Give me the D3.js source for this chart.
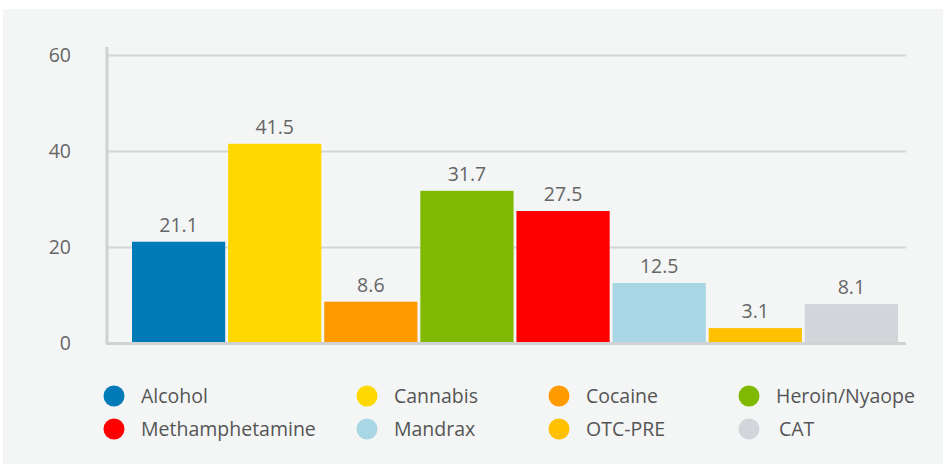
<!DOCTYPE html>
<meta charset="utf-8">
<style>
body { margin: 0; background: #fff; }
text { font-family: "Open Sans", sans-serif; }
.grid line { stroke: #d3d5d6; stroke-width: 2px; }
.grid path { stroke-width: 0; }
.value { fill: #666; font-size: 19.5px; }
.legend text { fill: #555; font-size: 19.5px; }
</style>
<body>
<script src="https://d3js.org/d3.v7.min.js"></script>
<script>

// data
var categories = ["Alcohol", "Cannabis", "Cocaine", "Heroin/Nyaope", "Methamphetamine", "Mandrax", "OTC-PRE", "CAT"];
var values = [21.1, 41.5, 8.6, 31.7, 27.5, 12.5, 3.1, 8.1];
var colors = ["#007bb8", "#fed800", "#ff9a00", "#7fba00", "#ff0000", "#a8d6e4", "#ffc000", "#d2d5d9"];
var yTicks = [0, 20, 40, 60];

// legend order as in the picture (2 rows x 4 columns)
var legendOrder = ["Alcohol", "Cannabis", "Cocaine", "Heroin/Nyaope", "Methamphetamine", "Mandrax", "OTC-PRE", "CAT"];

var W = 943, H = 464;

var svg = d3.select("body").append("svg")
    .attr("width", W)
    .attr("height", H);

// panel background
svg.append("rect")
    .attr("x", 3).attr("y", 9)
    .attr("width", W - 3).attr("height", H - 9)
    .attr("fill", "#f4f5f5");

// scales
var y = d3.scaleLinear().domain([0, 60]).range([343, 55]);
var x = d3.scaleBand().domain(categories).range([132, 898]).paddingInner(0.03);

// horizontal gridlines
svg.append("g")
    .attr("class", "grid")
    .attr("transform", "translate(107,0)")
    .call(d3.axisLeft(y).tickValues(yTicks.slice(1)).tickSize(-799).tickFormat(""));

// y tick labels
svg.append("g")
    .selectAll("text")
    .data(yTicks)
  .enter().append("text")
    .attr("class", "value")
    .attr("x", 71)
    .attr("y", function(d) { return y(d); })
    .attr("dy", "0.35em")
    .attr("text-anchor", "end")
    .text(function(d) { return d; });

// bars
svg.selectAll(".bar")
    .data(values)
  .enter().append("rect")
    .attr("class", "bar")
    .attr("x", function(d, i) { return x(categories[i]); })
    .attr("width", x.bandwidth())
    .attr("y", function(d) { return y(d); })
    .attr("height", function(d) { return y(0) - y(d); })
    .attr("fill", function(d, i) { return colors[i]; });

// value labels
svg.selectAll(".lbl")
    .data(values)
  .enter().append("text")
    .attr("class", "value")
    .attr("x", function(d, i) { return x(categories[i]) + x.bandwidth() / 2; })
    .attr("y", function(d) { return y(d) - 10; })
    .attr("text-anchor", "middle")
    .text(function(d) { return d.toFixed(1); });

// axis lines
svg.append("line")
    .attr("x1", 107).attr("x2", 107)
    .attr("y1", 47).attr("y2", 344)
    .attr("stroke", "#d0d2d4").attr("stroke-width", 3);
svg.append("line")
    .attr("x1", 106).attr("x2", 906)
    .attr("y1", 343.5).attr("y2", 343.5)
    .attr("stroke", "#d0d2d4").attr("stroke-width", 3);

// legend
var legX = [114, 367, 559, 749];
var legY = [396, 429];
var leg = svg.append("g").attr("class", "legend")
    .selectAll("g")
    .data(legendOrder)
  .enter().append("g")
    .attr("transform", function(d, i) {
      return "translate(" + legX[i % 4] + "," + legY[Math.floor(i / 4)] + ")";
    });

leg.append("circle")
    .attr("r", 10.5)
    .attr("fill", function(d) { return colors[categories.indexOf(d)]; });

leg.append("text")
    .attr("x", function(d) { return d === "CAT" ? 30 : 27; })
    .attr("dy", "0.35em")
    .text(function(d) { return d; });

</script>
</body>
